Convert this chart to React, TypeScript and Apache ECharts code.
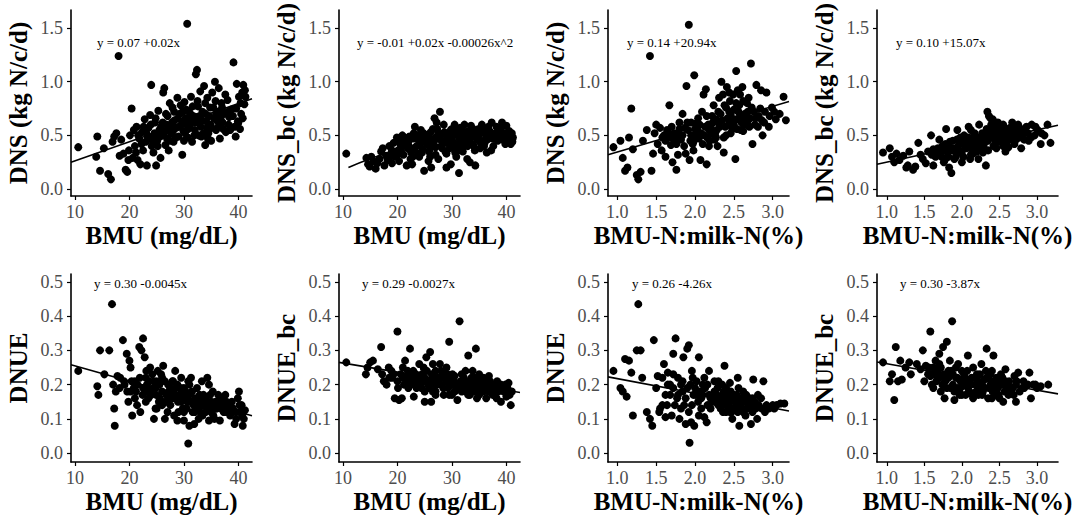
import React, { useEffect, useRef } from "react";
import * as echarts from "echarts";

// ---- tick labels ----
const bmuTicks = [10, 20, 30, 40];
const ratioTicks = [1.0, 1.5, 2.0, 2.5, 3.0];
const dnsTicks = [0.0, 0.5, 1.0, 1.5];
const dnueTicks = [0.0, 0.1, 0.2, 0.3, 0.4, 0.5];

// ---- axis titles ----
const xTitles = ["BMU (mg/dL)", "BMU (mg/dL)", "BMU-N:milk-N(%)", "BMU-N:milk-N(%)"];
const yTitlesTop = ["DNS (kg N/c/d)", "DNS_bc (kg N/c/d)", "DNS (kg N/c/d)", "DNS_bc (kg N/c/d)"];
const yTitlesBottom = ["DNUE", "DNUE_bc", "DNUE", "DNUE_bc"];

// ---- regression equations ----
const equations = [
  "y = 0.07 +0.02x",
  "y = -0.01 +0.02x -0.00026x^2",
  "y = 0.14 +20.94x",
  "y = 0.10 +15.07x",
  "y = 0.30 -0.0045x",
  "y = 0.29 -0.0027x",
  "y = 0.26 -4.26x",
  "y = 0.30 -3.87x",
];

// ---- scatter data ----
const dnsVsBmu = [
  [10.6,0.39],[14.1,0.49],[13.9,0.30],[14.6,0.17],[15.3,0.38],[16.1,0.14],[16.6,0.09],[16.9,0.44],[17.2,0.49],[17.6,0.52],
  [18.0,1.24],[18.2,0.31],[18.5,0.46],[18.9,0.33],[19.3,0.18],[19.6,0.16],[19.9,0.36],[20.1,0.50],[20.4,0.75],[20.6,0.29],
  [20.8,0.55],[21.0,0.40],[21.3,0.58],[21.5,0.27],[21.8,0.47],[22.0,0.23],[22.3,0.53],[22.5,0.36],[22.8,0.65],[23.0,0.44],
  [23.2,0.22],[23.5,0.57],[23.8,0.69],[24.0,0.97],[24.2,0.49],[24.4,0.34],[24.7,0.62],[24.9,0.22],[25.1,0.45],[25.3,0.73],
  [25.5,0.55],[25.7,0.29],[26.0,0.50],[26.2,0.90],[26.4,0.94],[26.6,0.41],[26.8,0.60],[27.0,0.68],[27.2,0.36],[27.4,0.80],
  [27.7,0.52],[27.9,0.76],[28.1,0.44],[28.3,0.64],[28.6,0.57],[28.8,0.85],[29.0,0.49],[29.2,0.70],[29.5,0.60],[29.7,0.32],
  [29.9,0.54],[30.1,0.81],[30.3,0.66],[30.6,1.54],[30.7,0.48],[30.9,0.73],[31.1,0.59],[31.3,0.86],[31.5,0.44],[31.7,0.68],
  [32.0,0.55],[32.2,1.07],[32.4,1.11],[32.6,0.77],[32.8,0.62],[33.0,0.91],[33.2,0.49],[33.4,0.72],[33.7,0.96],[33.9,0.41],
  [34.1,0.63],[34.3,0.85],[34.5,0.52],[34.8,0.76],[35.0,0.45],[35.2,0.90],[35.5,0.66],[35.7,1.00],[35.9,0.55],[36.2,0.72],
  [36.4,0.94],[36.6,0.47],[36.9,0.80],[37.1,0.62],[37.4,0.70],[37.7,0.53],[38.0,0.83],[38.3,0.67],[38.7,0.74],[39.1,1.18],
  [39.3,0.58],[39.5,0.49],[39.7,0.98],[39.9,0.63],[40.1,0.86],[40.3,0.56],[40.5,0.70],[40.7,0.90],[40.9,0.97],[41.1,0.79],
  [41.3,0.86],[22.2,0.42],[23.4,0.48],[24.6,0.52],[25.8,0.58],[26.9,0.47],[27.8,0.62],[28.9,0.66],[29.8,0.72],[30.5,0.60],
  [31.4,0.63],[32.3,0.67],[33.1,0.58],[34.0,0.70],[34.9,0.60],[36.0,0.64],[37.0,0.76],[38.2,0.60],[30.0,0.45],[32.7,0.50],
  [28.0,0.54],[26.5,0.53],[24.1,0.40],[21.2,0.34],[19.8,0.27],[35.8,0.82],
  [22.6,0.58],[23.1,0.52],[23.9,0.60],[24.3,0.44],[24.8,0.66],[25.2,0.40],[25.6,0.49],[26.1,0.62],[26.7,0.70],[27.1,0.56],
  [27.5,0.45],[28.2,0.72],[28.5,0.48],[29.1,0.58],[29.4,0.78],[29.9,0.63],[30.2,0.52],[30.4,0.74],[30.8,0.56],[31.2,0.70],
  [31.6,0.77],[31.9,0.50],[32.1,0.62],[32.5,0.82],[32.9,0.68],[33.3,0.64],[33.6,0.52],[33.9,0.80],[34.2,0.57],[34.6,0.68],
  [35.1,0.57],[35.4,0.76],[35.9,0.70],[36.3,0.58],[36.7,0.66],[37.2,0.56],[37.6,0.88],[38.1,0.72],[38.5,0.55],[39.0,0.68],
  [39.6,0.75],[40.0,0.62],[40.4,0.80],[40.8,0.66],[41.2,0.92],[27.3,0.58],[30.9,0.67],[34.4,0.47],[36.8,0.72],[21.6,0.50],
];

const dnsBcVsBmu = [
  [10.6,0.33],[14.3,0.29],[14.6,0.23],[14.9,0.21],[15.2,0.30],[15.6,0.26],[16.0,0.19],[16.3,0.24],[16.7,0.28],[17.0,0.35],
  [17.3,0.38],[17.6,0.22],[17.9,0.31],[18.2,0.27],[18.5,0.40],[18.8,0.33],[19.0,0.24],[19.3,0.43],[19.6,0.30],[19.9,0.48],
  [20.1,0.36],[20.3,0.26],[20.6,0.41],[20.9,0.50],[21.1,0.32],[21.4,0.45],[21.7,0.22],[21.9,0.38],[22.2,0.49],[22.5,0.34],
  [22.7,0.23],[23.0,0.52],[23.2,0.58],[23.5,0.40],[23.8,0.46],[24.0,0.30],[24.3,0.55],[24.6,0.37],[24.9,0.17],[25.1,0.50],
  [25.4,0.42],[25.7,0.26],[26.0,0.47],[26.2,0.20],[26.5,0.56],[26.8,0.66],[27.0,0.39],[27.2,0.62],[27.5,0.28],[27.8,0.72],
  [28.0,0.50],[28.3,0.44],[28.5,0.60],[28.8,0.35],[29.0,0.20],[29.3,0.52],[29.5,0.46],[29.8,0.23],[30.0,0.56],[30.3,0.40],
  [30.5,0.60],[30.8,0.30],[31.0,0.50],[31.3,0.15],[31.5,0.57],[31.8,0.44],[32.0,0.35],[32.3,0.60],[32.5,0.48],[32.8,0.28],
  [33.0,0.54],[33.3,0.25],[33.5,0.59],[33.8,0.42],[34.0,0.50],[34.3,0.22],[34.6,0.47],[34.9,0.56],[35.2,0.38],[35.5,0.60],
  [35.8,0.45],[36.1,0.53],[36.4,0.34],[36.7,0.58],[37.0,0.48],[37.3,0.62],[37.6,0.40],[38.0,0.52],[38.4,0.45],[38.8,0.57],
  [39.2,0.62],[39.5,0.50],[39.8,0.42],[40.0,0.59],[40.3,0.46],[40.5,0.54],[40.8,0.42],[41.0,0.52],[41.2,0.48],
  [21.0,0.40],[22.0,0.44],[23.0,0.37],[24.0,0.48],[25.0,0.45],[26.0,0.38],[27.0,0.48],[28.0,0.40],[29.0,0.43],[30.0,0.49],
  [31.0,0.42],[32.0,0.52],[33.0,0.45],[34.0,0.40],[35.0,0.50],[36.0,0.43],[37.0,0.53],[38.0,0.47],[39.0,0.55],[24.5,0.34],
  [27.5,0.52],[30.5,0.54],[33.5,0.48],[36.5,0.46],[20.0,0.32],[19.0,0.36],[22.8,0.30],[26.0,0.30],[29.0,0.33],[31.8,0.38],
  [20.5,0.44],[21.3,0.48],[22.1,0.40],[22.9,0.47],[23.6,0.50],[24.2,0.42],[24.8,0.52],[25.5,0.48],[26.1,0.53],[26.7,0.44],
  [27.3,0.56],[27.9,0.46],[28.6,0.53],[29.2,0.48],[29.8,0.55],[30.2,0.44],[30.8,0.52],[31.4,0.47],[31.9,0.55],[32.6,0.43],
  [33.2,0.50],[33.9,0.56],[34.5,0.53],[35.1,0.44],[35.6,0.55],[36.3,0.50],[36.9,0.54],[37.5,0.47],[38.2,0.58],[38.7,0.50],
  [39.3,0.46],[39.9,0.52],[40.6,0.48],[41.1,0.44],[25.8,0.35],[28.2,0.38],[31.2,0.36],[34.2,0.36],[37.2,0.36],[23.8,0.33],
  [27.0,0.32],[30.6,0.34],[22.4,0.28],[26.5,0.42],[29.6,0.38],[32.9,0.40],[35.9,0.40],[18.7,0.30],[20.7,0.35],[40.1,0.50],
];

const dnsVsRatio = [
  [0.95,0.39],[1.04,0.45],[1.07,0.29],[1.10,0.17],[1.13,0.20],[1.15,0.48],[1.18,0.75],[1.20,0.37],[1.25,0.13],[1.27,0.09],
  [1.30,0.16],[1.33,0.45],[1.38,0.55],[1.42,1.24],[1.44,0.17],[1.46,0.33],[1.48,0.52],[1.50,0.60],[1.52,0.42],[1.55,0.57],
  [1.57,0.36],[1.60,0.50],[1.62,0.30],[1.64,0.55],[1.67,0.78],[1.69,0.41],[1.71,0.25],[1.73,0.52],[1.76,0.18],[1.78,0.32],
  [1.80,0.62],[1.82,0.46],[1.84,0.70],[1.87,0.57],[1.89,0.96],[1.92,1.53],[1.93,0.27],[1.95,0.50],[1.97,0.42],[1.99,1.06],
  [2.01,0.61],[2.03,0.55],[2.05,0.47],[2.07,0.27],[2.09,0.72],[2.11,0.88],[2.14,0.93],[2.15,0.23],[2.17,0.60],[2.19,0.45],
  [2.21,0.52],[2.24,0.78],[2.27,0.65],[2.29,0.40],[2.31,0.85],[2.34,1.00],[2.37,0.34],[2.39,0.58],[2.41,0.95],[2.44,0.72],
  [2.47,0.62],[2.49,0.88],[2.52,0.28],[2.53,1.10],[2.55,0.65],[2.57,0.78],[2.59,0.55],[2.61,0.95],[2.64,0.70],[2.67,0.62],
  [2.69,0.85],[2.72,1.17],[2.74,0.42],[2.77,0.60],[2.79,0.97],[2.82,0.68],[2.84,0.75],[2.87,0.50],[2.89,0.62],[2.92,0.90],
  [2.95,0.58],[2.99,0.76],[3.04,0.65],[3.09,0.70],[3.14,0.86],[3.17,0.64],
  [1.62,0.45],[1.70,0.58],[1.78,0.50],[1.86,0.40],[1.91,0.55],[1.98,0.36],[2.04,0.66],[2.12,0.50],[2.18,0.40],[2.23,0.62],
  [2.28,0.55],[2.33,0.70],[2.37,0.48],[2.42,0.66],[2.46,0.52],[2.50,0.74],[2.54,0.56],[2.58,0.68],[2.63,0.60],[2.67,0.80],
  [2.71,0.66],[2.76,0.72],[2.45,0.82],[2.30,0.62],[2.15,0.68],[2.00,0.50],[1.88,0.33],[2.25,0.46],[2.55,0.92],[2.38,0.78],
  [1.74,0.45],[1.95,0.62],
  [1.58,0.48],[1.66,0.52],[1.72,0.48],[1.80,0.56],[1.84,0.50],[1.90,0.62],[1.94,0.45],[2.00,0.56],[2.06,0.60],[2.08,0.52],
  [2.13,0.58],[2.16,0.48],[2.20,0.58],[2.22,0.68],[2.26,0.52],[2.30,0.72],[2.32,0.58],[2.35,0.64],[2.40,0.50],[2.43,0.60],
  [2.46,0.70],[2.48,0.56],[2.51,0.65],[2.53,0.80],[2.56,0.72],[2.60,0.62],[2.62,0.82],[2.65,0.66],[2.68,0.72],[2.70,0.58],
  [2.73,0.76],[2.78,0.66],[2.81,0.58],[2.86,0.64],[2.90,0.72],[2.96,0.68],[3.02,0.72],[2.44,0.90],[2.36,0.88],[2.58,0.88],
  [1.98,0.44],[2.10,0.42],[2.27,0.48],[2.40,0.76],[2.62,0.54],[1.76,0.42],[1.68,0.48],[2.18,0.55],[2.50,0.60],[2.85,0.92],
];

const dnsBcVsRatio = [
  [0.95,0.34],[1.04,0.38],[1.07,0.30],[1.10,0.25],[1.13,0.33],[1.17,0.27],[1.22,0.31],[1.26,0.20],[1.28,0.22],[1.30,0.35],
  [1.35,0.18],[1.38,0.21],[1.42,0.43],[1.45,0.32],[1.48,0.28],[1.52,0.24],[1.55,0.35],[1.59,0.50],[1.62,0.22],[1.65,0.30],
  [1.68,0.38],[1.70,0.46],[1.73,0.30],[1.76,0.25],[1.79,0.56],[1.81,0.40],[1.83,0.20],[1.86,0.15],[1.88,0.45],[1.91,0.35],
  [1.94,0.55],[1.97,0.42],[2.00,0.25],[2.03,0.50],[2.06,0.38],[2.09,0.58],[2.11,0.28],[2.14,0.45],[2.17,0.52],[2.20,0.35],
  [2.23,0.60],[2.26,0.44],[2.29,0.40],[2.32,0.22],[2.34,0.72],[2.36,0.68],[2.38,0.55],[2.41,0.65],[2.43,0.48],[2.46,0.38],
  [2.49,0.52],[2.52,0.45],[2.55,0.60],[2.58,0.35],[2.61,0.50],[2.64,0.57],[2.67,0.62],[2.70,0.42],[2.73,0.55],[2.76,0.48],
  [2.79,0.38],[2.82,0.52],[2.86,0.58],[2.89,0.45],[2.93,0.60],[2.97,0.50],[3.01,0.55],[3.05,0.42],[3.10,0.50],[3.14,0.60],
  [3.18,0.43],
  [1.62,0.37],[1.72,0.34],[1.78,0.42],[1.85,0.36],[1.90,0.28],[1.95,0.40],[2.00,0.35],[2.05,0.44],[2.10,0.40],[2.15,0.33],
  [2.20,0.48],[2.25,0.38],[2.30,0.50],[2.35,0.45],[2.40,0.52],[2.45,0.44],[2.50,0.58],[2.55,0.50],[2.60,0.44],[2.65,0.50],
  [2.70,0.55],[2.75,0.60],[2.35,0.36],[2.22,0.28],[2.48,0.62],[1.98,0.48],[1.82,0.30],[2.12,0.55],[2.62,0.39],[2.42,0.58],
  [1.60,0.32],[1.67,0.34],[1.74,0.40],[1.80,0.35],[1.84,0.44],[1.88,0.38],[1.93,0.46],[1.96,0.34],[2.02,0.46],[2.04,0.40],
  [2.08,0.48],[2.13,0.37],[2.16,0.50],[2.19,0.42],[2.23,0.46],[2.27,0.52],[2.31,0.44],[2.33,0.56],[2.37,0.50],[2.39,0.60],
  [2.42,0.40],[2.44,0.54],[2.47,0.48],[2.50,0.44],[2.53,0.54],[2.56,0.47],[2.59,0.56],[2.63,0.46],[2.66,0.54],[2.69,0.50],
  [2.72,0.46],[2.75,0.52],[2.79,0.56],[2.83,0.46],[2.88,0.52],[2.92,0.48],[2.98,0.58],[3.06,0.52],[2.28,0.34],[2.12,0.32],
  [1.92,0.30],[2.45,0.62],[2.55,0.40],[2.38,0.66],[1.70,0.32],[1.78,0.28],[2.02,0.30],[2.20,0.40],[2.50,0.50],[2.68,0.58],
];

const dnueVsBmu = [
  [10.6,0.24],[14.1,0.195],[14.3,0.17],[14.6,0.30],[15.4,0.23],[16.3,0.30],[16.8,0.435],[17.0,0.20],[17.2,0.13],[17.3,0.08],
  [17.5,0.18],[17.8,0.225],[18.3,0.22],[18.8,0.33],[19.1,0.20],[19.5,0.29],[19.8,0.15],[20.0,0.27],[20.2,0.25],[20.5,0.11],
  [20.8,0.19],[21.0,0.16],[21.4,0.14],[21.8,0.31],[22.0,0.12],[22.2,0.30],[22.5,0.335],[22.8,0.28],[23.0,0.22],[23.4,0.18],
  [23.8,0.25],[24.2,0.23],[24.5,0.10],[24.8,0.13],[25.0,0.21],[25.4,0.15],[25.8,0.23],[26.2,0.255],[26.5,0.10],[26.8,0.17],
  [27.1,0.20],[27.5,0.14],[27.9,0.21],[28.2,0.11],[28.5,0.19],[28.8,0.095],[29.1,0.17],[29.5,0.22],[29.8,0.13],[30.0,0.095],
  [30.3,0.18],[30.6,0.15],[30.8,0.028],[31.0,0.08],[31.3,0.22],[31.6,0.12],[31.9,0.085],[32.1,0.16],[32.4,0.19],[32.7,0.10],
  [33.0,0.14],[33.3,0.21],[33.6,0.17],[34.0,0.12],[34.3,0.22],[34.6,0.095],[35.0,0.15],[35.3,0.18],[35.6,0.10],[36.0,0.13],
  [36.3,0.17],[36.6,0.095],[37.0,0.16],[37.3,0.12],[37.6,0.17],[38.0,0.14],[38.5,0.11],[39.0,0.13],[39.3,0.085],[39.6,0.10],
  [39.9,0.16],[40.1,0.18],[40.3,0.12],[40.6,0.14],[40.8,0.08],[41.0,0.10],[41.2,0.125],
  [21.5,0.20],[22.5,0.19],[23.2,0.20],[24.0,0.17],[24.8,0.19],[25.6,0.16],[26.5,0.21],[27.2,0.18],[28.0,0.16],[28.8,0.20],
  [29.5,0.15],[30.2,0.16],[31.0,0.17],[31.8,0.14],[32.6,0.13],[33.4,0.11],[34.2,0.15],[35.0,0.12],[35.8,0.15],[36.8,0.13],
  [24.5,0.21],[27.5,0.19],[30.0,0.19],[32.5,0.15],[35.4,0.11],[21.0,0.21],[26.0,0.14],[29.0,0.12],[33.0,0.16],[37.8,0.12],
  [20.2,0.18],[23.0,0.15],[25.2,0.24],[28.4,0.24],[31.0,0.20],
  [18.2,0.19],[19.0,0.21],[19.6,0.18],[20.4,0.21],[21.2,0.18],[21.9,0.22],[22.4,0.17],[23.1,0.24],[23.6,0.21],[24.3,0.19],
  [24.9,0.17],[25.5,0.20],[26.0,0.18],[26.6,0.15],[27.3,0.16],[27.8,0.18],[28.3,0.17],[28.9,0.15],[29.4,0.19],[29.9,0.17],
  [30.5,0.13],[31.1,0.15],[31.5,0.18],[32.0,0.12],[32.4,0.14],[32.9,0.17],[33.5,0.14],[33.9,0.16],[34.4,0.13],[34.8,0.17],
  [35.3,0.14],[35.8,0.13],[36.2,0.15],[36.8,0.15],[37.2,0.14],[37.8,0.15],[38.3,0.13],[38.8,0.15],[39.5,0.12],[40.2,0.14],
  [40.7,0.11],[25.0,0.13],[27.0,0.12],[30.0,0.12],[33.0,0.12],[26.0,0.22],[28.0,0.21],[23.5,0.16],[30.8,0.21],[34.6,0.20],
];

const dnueBcVsBmu = [
  [10.6,0.265],[14.2,0.23],[14.5,0.25],[15.0,0.265],[15.5,0.27],[16.4,0.245],[17.0,0.31],[17.2,0.23],[17.5,0.21],[18.0,0.20],
  [18.4,0.25],[18.9,0.24],[19.5,0.16],[20.0,0.355],[20.1,0.19],[20.3,0.155],[20.8,0.16],[21.0,0.25],[21.4,0.27],[21.9,0.24],
  [22.3,0.305],[22.5,0.20],[23.0,0.165],[23.5,0.22],[24.0,0.26],[24.5,0.23],[25.0,0.15],[25.3,0.28],[25.6,0.20],[26.0,0.295],
  [26.2,0.15],[26.5,0.26],[27.0,0.18],[27.5,0.22],[28.0,0.24],[28.5,0.17],[29.0,0.25],[29.5,0.325],[29.8,0.20],[30.1,0.23],
  [30.5,0.18],[31.0,0.155],[31.4,0.385],[31.6,0.21],[32.0,0.19],[32.5,0.24],[33.0,0.285],[33.3,0.17],[33.6,0.22],[34.0,0.20],
  [34.4,0.305],[34.6,0.16],[35.0,0.23],[35.5,0.18],[36.0,0.21],[36.3,0.16],[36.8,0.225],[37.1,0.19],[37.5,0.17],[38.0,0.20],
  [38.5,0.18],[39.0,0.15],[39.3,0.19],[39.8,0.20],[40.0,0.165],[40.4,0.205],[40.8,0.14],[41.0,0.18],
  [21.5,0.22],[22.5,0.23],[23.2,0.21],[24.2,0.20],[25.0,0.22],[26.0,0.21],[27.0,0.24],[28.0,0.20],[29.0,0.21],[30.0,0.20],
  [31.0,0.19],[32.0,0.21],[33.0,0.19],[34.0,0.18],[35.0,0.20],[36.0,0.19],[37.0,0.21],[23.5,0.19],[26.5,0.18],[28.5,0.22],
  [30.5,0.225],[32.5,0.18],[34.5,0.21],[21.0,0.22],[19.0,0.22],[24.8,0.25],[27.8,0.26],[29.5,0.17],[31.8,0.23],[33.8,0.24],
  [35.8,0.22],[38.2,0.16],[26.8,0.20],[29.2,0.23],[36.5,0.20],
  [18.5,0.22],[19.3,0.23],[20.0,0.21],[20.6,0.23],[21.2,0.20],[21.8,0.21],[22.3,0.22],[22.9,0.24],[23.4,0.23],[23.9,0.22],
  [24.4,0.19],[24.9,0.21],[25.4,0.24],[25.8,0.19],[26.3,0.23],[26.9,0.22],[27.3,0.20],[27.9,0.22],[28.4,0.19],[28.8,0.23],
  [29.3,0.19],[29.8,0.22],[30.3,0.21],[30.8,0.19],[31.3,0.20],[31.8,0.18],[32.2,0.22],[32.8,0.20],[33.2,0.21],[33.7,0.19],
  [34.2,0.22],[34.8,0.19],[35.3,0.21],[35.8,0.18],[36.2,0.20],[36.7,0.18],[37.3,0.20],[37.8,0.19],[38.3,0.21],[38.8,0.19],
  [39.5,0.18],[40.2,0.19],[40.6,0.17],[27.0,0.17],[30.0,0.17],[33.0,0.17],[25.0,0.18],[22.0,0.19],[35.0,0.17],[39.0,0.20],
];

const dnueVsRatio = [
  [0.95,0.24],[1.04,0.19],[1.07,0.18],[1.10,0.275],[1.12,0.165],[1.15,0.27],[1.18,0.235],[1.20,0.11],[1.25,0.30],[1.27,0.435],
  [1.30,0.30],[1.32,0.22],[1.38,0.12],[1.42,0.10],[1.45,0.08],[1.47,0.33],[1.50,0.19],[1.52,0.225],[1.55,0.13],[1.58,0.14],
  [1.60,0.26],[1.62,0.105],[1.65,0.235],[1.68,0.17],[1.70,0.11],[1.72,0.29],[1.75,0.335],[1.77,0.16],[1.80,0.10],[1.82,0.20],
  [1.85,0.28],[1.88,0.085],[1.90,0.305],[1.92,0.315],[1.93,0.03],[1.95,0.09],[1.97,0.22],[1.99,0.08],[2.01,0.17],[2.05,0.28],
  [2.08,0.13],[2.10,0.20],[2.12,0.105],[2.15,0.09],[2.18,0.24],[2.20,0.16],[2.25,0.18],[2.30,0.14],[2.35,0.20],[2.38,0.255],
  [2.40,0.12],[2.42,0.16],[2.45,0.205],[2.48,0.10],[2.50,0.17],[2.52,0.13],[2.55,0.22],[2.57,0.08],[2.60,0.15],[2.62,0.18],
  [2.65,0.11],[2.70,0.16],[2.72,0.085],[2.75,0.215],[2.78,0.13],[2.80,0.10],[2.85,0.16],[2.88,0.21],[2.90,0.12],[2.95,0.13],
  [3.00,0.14],[3.05,0.14],[3.10,0.145],[3.15,0.145],
  [1.65,0.20],[1.72,0.19],[1.78,0.22],[1.84,0.18],[1.88,0.16],[1.94,0.20],[2.00,0.19],[2.04,0.15],[2.10,0.17],[2.16,0.14],
  [2.22,0.15],[2.28,0.17],[2.33,0.13],[2.38,0.15],[2.43,0.14],[2.48,0.16],[2.53,0.15],[2.58,0.14],[2.63,0.16],[2.68,0.13],
  [2.35,0.17],[2.45,0.12],[2.55,0.12],[2.25,0.21],[2.12,0.22],[1.96,0.24],[1.58,0.22],[1.54,0.12],[2.62,0.12],[2.72,0.14],
  [2.82,0.14],[2.40,0.19],[2.05,0.11],[1.82,0.13],
  [1.62,0.17],[1.68,0.20],[1.74,0.14],[1.78,0.17],[1.84,0.21],[1.86,0.14],[1.90,0.19],[1.92,0.12],[1.98,0.17],[2.02,0.21],
  [2.06,0.18],[2.08,0.16],[2.13,0.19],[2.18,0.17],[2.20,0.13],[2.23,0.17],[2.26,0.15],[2.29,0.19],[2.31,0.16],[2.34,0.15],
  [2.37,0.18],[2.40,0.14],[2.41,0.17],[2.44,0.15],[2.46,0.18],[2.49,0.13],[2.51,0.15],[2.54,0.17],[2.56,0.14],[2.59,0.16],
  [2.61,0.13],[2.64,0.15],[2.66,0.17],[2.69,0.14],[2.71,0.15],[2.74,0.16],[2.77,0.15],[2.81,0.17],[2.86,0.13],[2.92,0.14],
  [3.02,0.13],[2.47,0.12],[2.36,0.12],[2.56,0.19],[2.16,0.20],[1.96,0.14],[1.72,0.23],[1.64,0.14],[2.30,0.21],[2.74,0.12],
];

const dnueBcVsRatio = [
  [0.95,0.265],[1.04,0.21],[1.07,0.23],[1.10,0.155],[1.12,0.31],[1.15,0.21],[1.18,0.27],[1.20,0.215],[1.25,0.25],[1.30,0.265],
  [1.32,0.23],[1.40,0.26],[1.45,0.245],[1.48,0.30],[1.50,0.21],[1.52,0.255],[1.55,0.23],[1.58,0.355],[1.60,0.20],[1.62,0.25],
  [1.65,0.27],[1.68,0.22],[1.70,0.29],[1.72,0.18],[1.75,0.31],[1.77,0.16],[1.80,0.325],[1.82,0.24],[1.85,0.19],[1.87,0.385],
  [1.90,0.155],[1.92,0.22],[1.95,0.26],[1.97,0.17],[2.00,0.24],[2.05,0.20],[2.08,0.285],[2.10,0.21],[2.15,0.16],[2.20,0.23],
  [2.25,0.19],[2.30,0.215],[2.33,0.305],[2.35,0.16],[2.40,0.24],[2.42,0.285],[2.45,0.18],[2.50,0.21],[2.55,0.15],[2.58,0.245],
  [2.60,0.20],[2.65,0.175],[2.70,0.225],[2.72,0.15],[2.75,0.235],[2.80,0.19],[2.85,0.20],[2.90,0.235],[2.92,0.16],[2.95,0.20],
  [3.00,0.19],[3.05,0.195],[3.15,0.20],
  [1.78,0.21],[1.88,0.23],[1.98,0.21],[2.08,0.19],[2.18,0.20],[2.28,0.18],[2.38,0.20],[2.48,0.19],[2.58,0.21],[2.68,0.19],
  [1.68,0.24],[1.58,0.225],[2.15,0.25],[2.35,0.22],[2.45,0.17],[2.55,0.20],[1.84,0.27],[1.94,0.19],[2.03,0.23],[2.13,0.22],
  [2.22,0.17],[2.32,0.24],[2.42,0.21],[2.52,0.23],[2.62,0.17],[2.72,0.20],[2.82,0.21],[1.72,0.25],[2.00,0.17],[2.26,0.26],
  [1.62,0.19],
  [1.56,0.25],[1.62,0.23],[1.66,0.21],[1.70,0.22],[1.74,0.20],[1.76,0.23],[1.80,0.19],[1.82,0.22],[1.86,0.24],[1.88,0.20],
  [1.92,0.25],[1.94,0.22],[1.98,0.19],[2.02,0.20],[2.04,0.22],[2.07,0.24],[2.10,0.18],[2.12,0.20],[2.16,0.22],[2.19,0.18],
  [2.22,0.21],[2.24,0.23],[2.27,0.20],[2.30,0.19],[2.33,0.22],[2.36,0.19],[2.38,0.23],[2.41,0.18],[2.44,0.20],[2.46,0.22],
  [2.49,0.17],[2.52,0.20],[2.54,0.22],[2.57,0.18],[2.60,0.19],[2.63,0.21],[2.66,0.19],[2.69,0.17],[2.73,0.21],[2.77,0.18],
  [2.83,0.19],[2.88,0.20],[2.98,0.20],[1.90,0.18],[2.05,0.17],[2.14,0.17],[2.27,0.17],[2.40,0.16],[2.50,0.16],[1.70,0.26],
];

// ---- fitted lines ----
const fitDnsBmu = [[9.27,0.25],[42.5,0.84]];
const fitDnsBcBmu = [[11,0.2],[15,0.282],[20,0.366],[25,0.43],[30,0.474],[35,0.498],[41,0.5]];
const fitDnsRatio = [[0.88,0.32],[3.21,0.815]];
const fitDnsBcRatio = [[0.87,0.231],[3.28,0.594]];
const fitDnueBmu = [[9.27,0.258],[42.5,0.109]];
const fitDnueBcBmu = [[9.27,0.265],[42.5,0.177]];
const fitDnueRatio = [[0.88,0.2225],[3.21,0.123]];
const fitDnueBcRatio = [[0.87,0.266],[3.28,0.173]];

const scatterSets = [dnsVsBmu, dnsBcVsBmu, dnsVsRatio, dnsBcVsRatio, dnueVsBmu, dnueBcVsBmu, dnueVsRatio, dnueBcVsRatio];
const fitSets = [fitDnsBmu, fitDnsBcBmu, fitDnsRatio, fitDnsBcRatio, fitDnueBmu, fitDnueBcBmu, fitDnueRatio, fitDnueBcRatio];

// ---- layout ----
const colLeft = [71, 339, 608, 877];
const colXRange = [[9.27, 42.5], [9.27, 42.5], [0.88, 3.21], [0.87, 3.28]];
const rowTop = [10, 274];
const rowHeight = [186, 188];
const rowYRange = [[-0.065, 1.668], [-0.026, 0.523]];
const eqPos = [[97, 42], [357, 42], [627, 42], [896, 42], [94, 283], [362, 283], [632, 283], [900, 283]];

const SERIF = "Liberation Serif";

export default function App() {
  const ref = useRef<HTMLDivElement>(null);
  useEffect(() => {
    if (!ref.current) return;
    const chart = echarts.init(ref.current, null, { renderer: "svg" });
    const grids: any[] = [];
    const xAxes: any[] = [];
    const yAxes: any[] = [];
    const series: any[] = [];
    const graphics: any[] = [];
    for (let i = 0; i < 8; i++) {
      const row = i < 4 ? 0 : 1;
      const col = i % 4;
      grids.push({ left: colLeft[col], top: rowTop[row], width: 181, height: rowHeight[row], containLabel: false });
      const xTicks = col < 2 ? bmuTicks : ratioTicks;
      const yTicks = row === 0 ? dnsTicks : dnueTicks;
      xAxes.push({
        type: "value", gridIndex: i, min: colXRange[col][0], max: colXRange[col][1],
        name: xTitles[col], nameLocation: "middle", nameGap: 27,
        nameTextStyle: { fontFamily: SERIF, fontWeight: "bold", fontSize: 25, color: "#000" },
        splitLine: { show: false },
        axisLine: { show: true, onZero: false, lineStyle: { color: "#000", width: 1.6 } },
        axisTick: { show: true, length: 4, customValues: xTicks, lineStyle: { color: "#000", width: 1.2 } },
        axisLabel: {
          customValues: xTicks, margin: 7, color: "#4d4d4d", fontFamily: SERIF, fontSize: 18,
          formatter: (v: number) => (col < 2 ? String(Math.round(v)) : v.toFixed(1)),
        },
      });
      yAxes.push({
        type: "value", gridIndex: i, min: rowYRange[row][0], max: rowYRange[row][1],
        name: row === 0 ? yTitlesTop[col] : yTitlesBottom[col], nameLocation: "middle", nameGap: 40,
        nameTextStyle: { fontFamily: SERIF, fontWeight: "bold", fontSize: 25, color: "#000" },
        splitLine: { show: false },
        axisLine: { show: true, onZero: false, lineStyle: { color: "#000", width: 1.6 } },
        axisTick: { show: true, length: 4, customValues: yTicks, lineStyle: { color: "#000", width: 1.2 } },
        axisLabel: {
          customValues: yTicks, margin: 8, color: "#4d4d4d", fontFamily: SERIF, fontSize: 18,
          formatter: (v: number) => v.toFixed(1),
        },
      });
      series.push({
        type: "scatter", xAxisIndex: i, yAxisIndex: i, data: scatterSets[i],
        symbol: "circle", symbolSize: 8, itemStyle: { color: "#000", opacity: 1 },
        silent: true,
      });
      series.push({
        type: "line", xAxisIndex: i, yAxisIndex: i, data: fitSets[i],
        showSymbol: false, smooth: i === 1, lineStyle: { color: "#000", width: 1.6 }, silent: true,
      });
      graphics.push({
        type: "text", x: eqPos[i][0], y: eqPos[i][1],
        style: { text: equations[i], fontFamily: SERIF, fontSize: 13, fill: "#000", verticalAlign: "middle", align: "left" },
      });
    }
    chart.setOption({
      animation: false,
      backgroundColor: "#fff",
      grid: grids,
      xAxis: xAxes,
      yAxis: yAxes,
      series,
      graphic: graphics,
    });
    return () => chart.dispose();
  }, []);
  return <div ref={ref} style={{ position: "absolute", left: 0, top: 0, width: 1084, height: 515 }} />;
}
